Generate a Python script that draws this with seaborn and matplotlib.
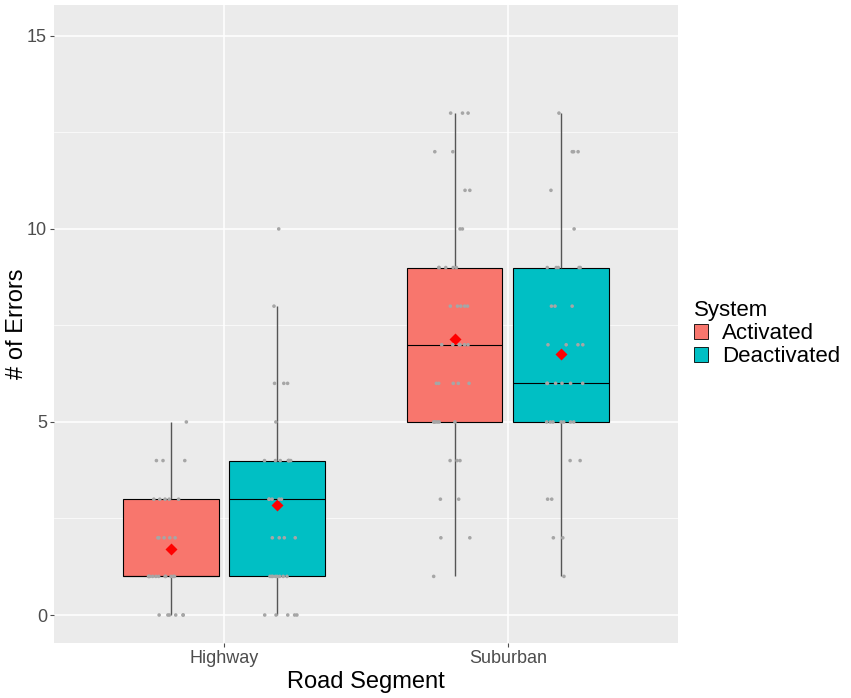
import numpy as np
import pandas as pd
import matplotlib
matplotlib.use("Agg")
import matplotlib.pyplot as plt
from matplotlib.patches import Patch
import seaborn as sns

np.random.seed(3)

# error counts per value (value: how many participants)
segments = ["Highway", "Suburban"]
systems = ["Activated", "Deactivated"]
highway_act = {0: 6, 1: 11, 2: 5, 3: 5, 4: 3, 5: 1}
highway_deact = {0: 5, 1: 8, 2: 4, 3: 5, 4: 7, 5: 1, 6: 3, 8: 1, 10: 1}
suburban_act = {1: 1, 2: 2, 3: 2, 4: 3, 5: 6, 6: 5, 7: 6, 8: 5, 9: 5, 10: 2, 11: 2, 12: 2, 13: 3}
suburban_deact = {1: 1, 2: 2, 3: 2, 4: 2, 5: 7, 6: 6, 7: 4, 8: 3, 9: 5, 10: 1, 11: 1, 12: 3, 13: 1}

colors = ["#F8766D", "#00BFC4"]

rows = []
for seg, sysname, counts in [("Highway", "Activated", highway_act),
                             ("Highway", "Deactivated", highway_deact),
                             ("Suburban", "Activated", suburban_act),
                             ("Suburban", "Deactivated", suburban_deact)]:
    for val, n in counts.items():
        rows += [(seg, sysname, val)] * n
df = pd.DataFrame(rows, columns=["Road Segment", "System", "Errors"])

plt.rcParams["font.family"] = ["Liberation Sans", "DejaVu Sans"]

fig = plt.figure(figsize=(8.51, 6.98), dpi=100)
ax = fig.add_axes([54 / 851, 55 / 698, 624 / 851, 638 / 698])
ax.set_facecolor("#EBEBEB")

sns.boxplot(data=df, x="Road Segment", y="Errors", hue="System", order=segments,
            hue_order=systems, palette=colors, width=0.75, gap=0.1, showfliers=False,
            whis=1.5, linecolor="black", linewidth=0.8, showcaps=False,
            whiskerprops=dict(color="#555555", linewidth=1.0),
            saturation=1, legend=False, ax=ax)
sns.stripplot(data=df, x="Road Segment", y="Errors", hue="System", order=segments,
              hue_order=systems, dodge=True, jitter=0.14, palette=["#A6A6A6", "#A6A6A6"],
              size=2.6, legend=False, ax=ax)
sns.pointplot(data=df, x="Road Segment", y="Errors", hue="System", order=segments,
              hue_order=systems, dodge=0.375, estimator="mean", errorbar=None,
              palette=["red", "red"], markers="D", markersize=4.5, linestyle="none",
              legend=False, ax=ax)

ax.set_xlim(-0.6, 1.6)
ax.set_ylim(-0.725, 15.8)
ax.set_yticks([0, 5, 10, 15])
ax.set_yticks([2.5, 7.5, 12.5], minor=True)
ax.grid(True, which="major", color="white", linewidth=1.1)
ax.grid(True, which="minor", axis="y", color="white", linewidth=0.5)
ax.set_axisbelow(True)
for s in ax.spines.values():
    s.set_visible(False)
ax.tick_params(axis="both", which="major", labelsize=13, colors="#4D4D4D",
               length=3, width=0.8, pad=2)
ax.tick_params(axis="y", which="minor", length=0)
ax.set_xlabel("Road Segment", fontsize=17, color="black", labelpad=3)
ax.set_ylabel("# of Errors", fontsize=17, color="black")
ax.yaxis.set_label_coords(-0.041, 0.5)

handles = [Patch(facecolor=c, edgecolor="black", linewidth=0.6) for c in colors]
leg = fig.legend(handles, systems, title="System", loc="upper left",
                 bbox_to_anchor=(674 / 851, 1 - 280 / 698), frameon=False,
                 fontsize=16, title_fontsize=16, alignment="left",
                 handlelength=0.65, handleheight=0.7, labelspacing=0.1,
                 handletextpad=0.6)

fig.savefig("out.png", dpi=100)
